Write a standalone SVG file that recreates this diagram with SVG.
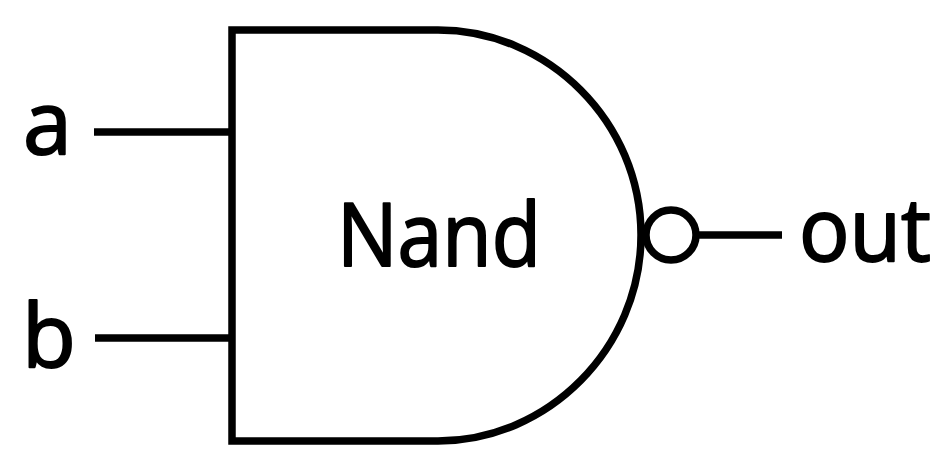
<svg xmlns="http://www.w3.org/2000/svg" width="950" height="473" viewBox="0 0 950 473">
<style>
.s{fill:none;stroke:#000;stroke-width:7.5}
.t{font-family:"Open Sans","Noto Sans","Liberation Sans",sans-serif;font-size:88px;fill:#000;stroke:#000;stroke-width:2;stroke-linejoin:round}
</style>
<rect width="950" height="473" fill="#fff"/>
<g id="connectors">
<path class="s" d="M94 132H232"/>
<path class="s" d="M95 338H232"/>
<path class="s" d="M696 235H782"/>
</g>
<g id="gate"><path class="s" d="M232 30H438C548 30 641 122 641 235C641 348 548 441 438 441H232Z"/></g>
<g id="bubble"><circle class="s" cx="671" cy="235" r="25"/></g>
<g id="label-nand"><text class="t" x="337" y="266" textLength="204" lengthAdjust="spacingAndGlyphs">Nand</text></g>
<g id="label-a"><text class="t" x="23" y="154">a</text></g>
<g id="label-b"><text class="t" x="22" y="367">b</text></g>
<g id="label-out"><text class="t" x="799" y="261" textLength="132" lengthAdjust="spacingAndGlyphs">out</text></g>
</svg>
